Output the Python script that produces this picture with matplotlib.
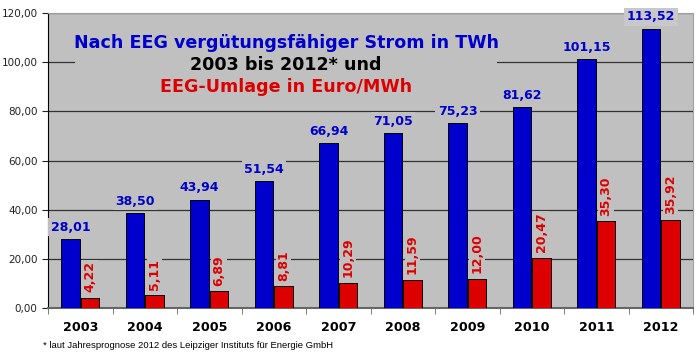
import matplotlib.pyplot as plt
import numpy as np
from matplotlib.patches import Rectangle
from matplotlib.ticker import FuncFormatter

years = ["2003", "2004", "2005", "2006", "2007", "2008", "2009", "2010", "2011", "2012"]
strom_twh = [28.01, 38.50, 43.94, 51.54, 66.94, 71.05, 75.23, 81.62, 101.15, 113.52]
umlage_eur = [4.22, 5.11, 6.89, 8.81, 10.29, 11.59, 12.00, 20.47, 35.30, 35.92]

BG = "#c0c0c0"
BLUE = "#0000cc"
RED = "#dd0000"


def de(v):
    return f"{v:.2f}".replace(".", ",")


fig = plt.figure(figsize=(7, 3.63), dpi=100)
ax = fig.add_axes([0.0686, 0.1515, 0.9214, 0.8125])
ax.set_facecolor(BG)

x = np.arange(len(years))
w = 0.29
b1 = ax.bar(x - 0.15, strom_twh, width=w, color=BLUE, edgecolor="black", linewidth=0.7, zorder=3)
b2 = ax.bar(x + 0.15, umlage_eur, width=w, color=RED, edgecolor="black", linewidth=0.7, zorder=3)

for rect, v in zip(b1, strom_twh):
    ax.annotate(de(v), (rect.get_x() + rect.get_width() / 2, v), xytext=(0, 4),
                textcoords="offset points", ha="center", va="bottom",
                fontsize=9, fontweight="bold", color=BLUE, zorder=5, annotation_clip=False,
                bbox=dict(boxstyle="square,pad=0.2", fc="#c8c8c8" if v > 110 else BG, ec="none"))
for rect, v in zip(b2, umlage_eur):
    ax.annotate(de(v), (rect.get_x() + rect.get_width() / 2, v), xytext=(0, 4),
                textcoords="offset points", ha="center", va="bottom", rotation=90,
                fontsize=9, fontweight="bold", color=RED, zorder=5,
                bbox=dict(boxstyle="square,pad=0.1", fc=BG, ec="none"))

ax.set_xlim(-0.5, len(years) - 0.5)
ax.set_ylim(0, 120)
ax.set_yticks(np.arange(0, 121, 20))
ax.yaxis.set_major_formatter(FuncFormatter(lambda v, p: de(v)))
ax.tick_params(axis="y", labelsize=7.5, length=4, direction="out", colors="#222222")
ax.set_xticks(x)
ax.set_xticklabels(years, fontsize=9.2, fontweight="bold")
ax.tick_params(axis="x", length=0, pad=9)
ax.set_xticks(np.arange(-0.5, len(years)), minor=True)
ax.tick_params(axis="x", which="minor", length=4, color="#666666")
ax.grid(axis="y", color="#333333", linewidth=0.9, zorder=1)
ax.set_axisbelow(True)

for s in ["top", "right"]:
    ax.spines[s].set_color("#a0a0a0")
ax.spines["left"].set_color("black")
ax.spines["bottom"].set_color("#666666")
ax.spines["bottom"].set_linewidth(1.5)

# title box hides gridlines behind the heading
ax.add_patch(Rectangle((0.042, 0.70), 0.654, 0.24, transform=ax.transAxes,
                       facecolor=BG, edgecolor="none", zorder=2))
tx = 0.369
ax.text(tx, 0.898, "Nach EEG vergütungsfähiger Strom in TWh", transform=ax.transAxes,
        ha="center", va="center", fontsize=12.6, fontweight="bold", color=BLUE, zorder=4)
ax.text(tx, 0.824, "2003 bis 2012* und", transform=ax.transAxes,
        ha="center", va="center", fontsize=12.6, fontweight="bold", color="black", zorder=4)
ax.text(tx, 0.749, "EEG-Umlage in Euro/MWh", transform=ax.transAxes,
        ha="center", va="center", fontsize=12.6, fontweight="bold", color=RED, zorder=4)

fig.text(0.061, 0.047, "* laut Jahresprognose 2012 des Leipziger Instituts für Energie GmbH",
         fontsize=6.8, family="Liberation Sans", va="center")

plt.savefig("out.png", dpi=100)
